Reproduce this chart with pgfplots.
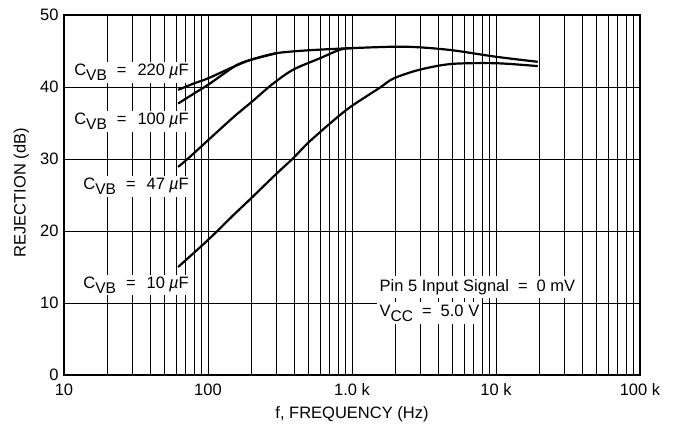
\documentclass[border=0pt]{standalone}
\usepackage{pgfplots}
\pgfplotsset{compat=1.18}
\usepackage{fontspec}
\setmainfont{Liberation Sans}
\newcommand{\sub}[1]{\raisebox{-5pt}{\fontsize{15.5}{15.5}\selectfont #1}}
\newcommand{\fs}{\fontsize{16.5}{19}\selectfont}

\begin{document}
\begin{tikzpicture}
\begin{axis}[
  scale only axis,
  width=576pt, height=360pt,
  xmode=log,
  xmin=10, xmax=100000,
  ymin=0, ymax=50,
  xtick={10,100,1000,10000,100000},
  xticklabels={10,100,1.0 k,10 k,100 k},
  ytick={0,10,20,30,40,50},
  /pgf/number format/assume math mode=true,
  major tick length=0pt, minor tick length=0pt,
  xmajorgrids, xminorgrids, ymajorgrids,
  major grid style={black, line width=0.8pt},
  minor grid style={black, line width=0.8pt},
  axis line style={black, line width=1.3pt},
  tick label style={font=\fs},
  xticklabel style={yshift=-5pt},
  yticklabel style={xshift=-2pt},
  label style={font=\fs},
  xlabel={f, FREQUENCY (Hz)},
  ylabel={REJECTION (dB)},
  xlabel style={at={(axis description cs:0.5,0)}, anchor=north, yshift=-28pt},
  ylabel style={at={(axis description cs:-0.074,0.506)}, anchor=center},
  curve/.style={black, line width=2.2pt, smooth, no markers},
]
% C_VB = 220 uF
\addplot[curve] coordinates {
  (62,39.6) (80,40.5) (100,41.2) (150,42.8) (200,43.8) (300,44.7)
  (500,45.1) (1000,45.4) (2000,45.6) (3000,45.5) (5000,45.1)
  (10000,44.2) (19500,43.5)
};
% C_VB = 100 uF
\addplot[curve] coordinates {
  (62,37.7) (80,39.1) (100,40.3) (130,41.9) (160,43.1) (200,43.8)
  (300,44.7)
};
% C_VB = 47 uF
\addplot[curve] coordinates {
  (62,28.9) (73,30.1) (100,32.6) (150,35.8) (203,38.0) (280,40.4)
  (390,42.4) (600,44.0) (830,45.2) (1000,45.4)
};
% C_VB = 10 uF
\addplot[curve] coordinates {
  (62,15.0) (100,18.75) (150,22.2) (203,24.7) (295,27.85) (390,30.1)
  (493,32.2) (700,34.9) (970,37.2) (1560,39.9) (1950,41.2)
  (2950,42.4) (4900,43.2) (10000,43.3) (19500,42.9)
};

\node[fill=white, anchor=east, inner sep=2pt, font=\fs] at (axis cs:76,42.0)
  {C\sub{VB}\hspace{10pt}=\hspace{11pt}220\hspace{4pt}{\itshape µ}F};
\node[fill=white, anchor=east, inner sep=2pt, font=\fs] at (axis cs:76,35.2)
  {C\sub{VB}\hspace{10pt}=\hspace{11pt}100\hspace{4pt}{\itshape µ}F};
\node[fill=white, anchor=east, inner sep=2pt, font=\fs] at (axis cs:76,26.2)
  {C\sub{VB}\hspace{10pt}=\hspace{11pt}47\hspace{4pt}{\itshape µ}F};
\node[fill=white, anchor=east, inner sep=2pt, font=\fs] at (axis cs:76,12.5)
  {C\sub{VB}\hspace{10pt}=\hspace{11pt}10\hspace{4pt}{\itshape µ}F};

\node[fill=white, anchor=west, inner sep=3pt, font=\fs] at (axis cs:1480,12.2)
  {Pin 5 Input Signal\hspace{9pt}=\hspace{9pt}0 mV};
\node[fill=white, anchor=west, inner sep=3pt, font=\fs] at (axis cs:1480,8.6)
  {V\sub{CC}\hspace{9pt}=\hspace{9pt}5.0 V\hspace{24pt}};
\end{axis}
\pgfresetboundingbox
\path ([shift={(-64pt,-50pt)}]current axis.south west)
  rectangle ([shift={(37pt,15pt)}]current axis.north east);
\end{tikzpicture}
\end{document}
